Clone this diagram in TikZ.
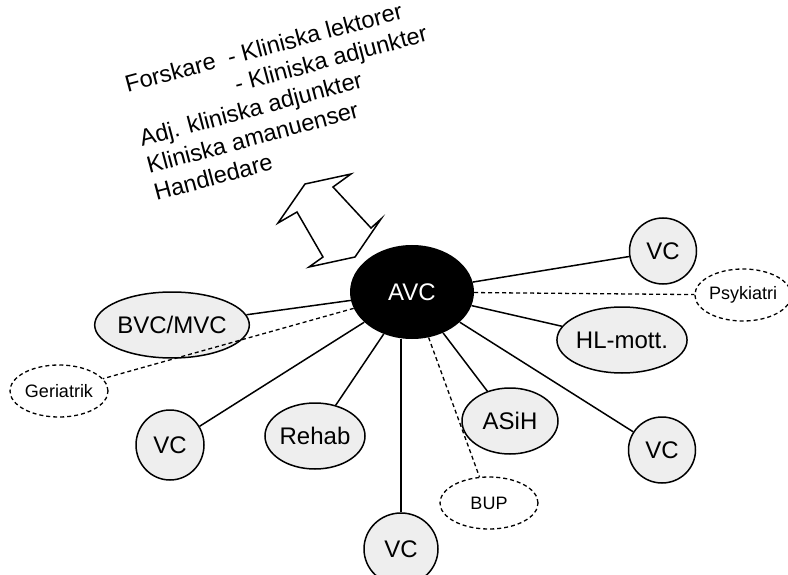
\documentclass[tikz,border=0pt]{standalone}
\usepackage{fontspec}
\setmainfont{Liberation Sans}
\usetikzlibrary{shapes.geometric}

\tikzset{
	unit/.style={ellipse, draw, line width=1.5pt, fill=gray!13, inner sep=0pt, font=\fontsize{24}{27}\selectfont},
	ext/.style={ellipse, draw, line width=1.3pt, dash pattern=on 4pt off 3pt, fill=white, inner sep=0pt, font=\fontsize{18}{20}\selectfont},
	hub/.style={ellipse, fill=black, text=white, inner sep=0pt, font=\fontsize{24}{27}\selectfont},
	link/.style={line width=1.5pt},
	dlink/.style={line width=1.3pt, dash pattern=on 4pt off 3pt}
}

\begin{document}
\begin{tikzpicture}[x=1pt, y=-1pt]
	\useasboundingbox (0, 0) rectangle (788, 575);

	% roles, tilted
	\node[rotate=15, anchor=north west, align=left, inner sep=0pt, font=\fontsize{23.5}{28}\selectfont] (staff) at (123, 76)
	{Forskare\ \ - Kliniska lektorer\\
	\phantom{Forskare\ \ }- Kliniska adjunkter\\
	Adj. kliniska adjunkter\\
	Kliniska amanuenser\\
	Handledare};

	% double block arrow
	\draw [line width=1.5pt, fill=white] (305, 184) -- (351, 174) -- (333, 187) -- (371, 228)
	-- (381, 219) -- (355, 257) -- (309, 267) -- (323, 257) -- (297, 212) -- (278, 223) -- cycle;

	\node[hub, minimum width=124, minimum height=94] (avc) at (412, 292) {AVC};

	\node[unit, minimum width=67, minimum height=66] (vctr) at (663, 251) {VC};
	\node[unit, minimum width=107, minimum height=66] (hl) at (622, 340) {HL-mott.};
	\node[unit, minimum width=67, minimum height=66] (vcbr) at (662, 450) {VC};
	\node[unit, minimum width=96, minimum height=66] (asih) at (510, 421) {ASiH};
	\node[unit, minimum width=74, minimum height=72] (vcb) at (401, 549) {VC};
	\node[unit, minimum width=96, minimum height=66] (rehab) at (315, 436) {Rehab};
	\node[unit, minimum width=68, minimum height=70] (vcl) at (170, 445) {VC};
	\node[unit, minimum width=129, minimum height=66] (bvc) at (172, 325) {BVC/MVC};

	\node[ext, minimum width=94, minimum height=52] (psyk) at (743, 295) {Psykiatri};
	\node[ext, minimum width=98, minimum height=52] (ger) at (59, 391) {Geriatrik};
	\node[ext, minimum width=98, minimum height=52] (bup) at (489, 503) {BUP};

	\draw [link] (avc) -- (vctr);
	\draw [link] (avc) -- (hl);
	\draw [link] (avc) -- (vcbr);
	\draw [link] (avc) -- (asih);
	\draw [link] (vcb) -- (vcb |- avc.south);
	\draw [link] (avc) -- (rehab);
	\draw [link] (avc) -- (vcl);
	\draw [link] (avc) -- (bvc);

	\draw [dlink] (avc) -- (psyk);
	\draw [dlink] (avc) -- (ger);
	\draw [dlink] (avc) -- (bup);
\end{tikzpicture}
\end{document}
